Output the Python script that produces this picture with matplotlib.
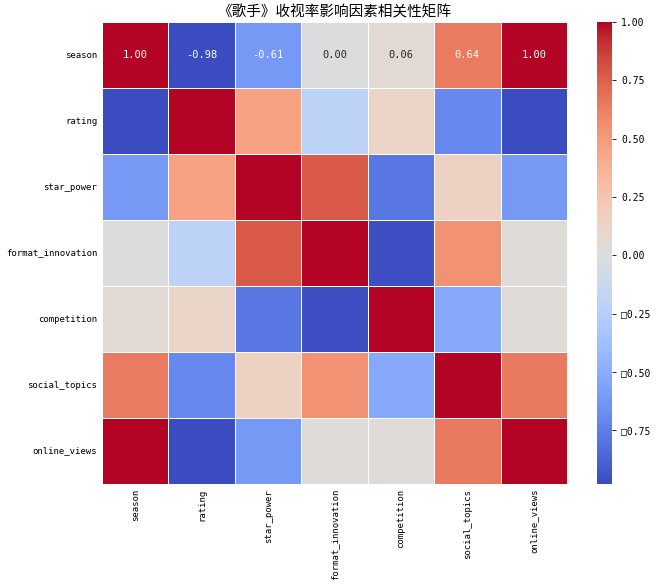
import numpy as np
import matplotlib
matplotlib.use("Agg")
import matplotlib.pyplot as plt
import seaborn as sns

plt.rcParams['font.family'] = ['Noto Sans CJK SC', 'DejaVu Sans']

labels = ['season', 'rating', 'star_power', 'format_innovation',
          'competition', 'social_topics', 'online_views']

# correlation matrix (rows)
season_row = [1.00, -0.98, -0.61, 0.00, 0.06, 0.64, 1.00]
rating_row = [-0.98, 1.00, 0.46, -0.21, 0.12, -0.70, -0.98]
star_row = [-0.61, 0.46, 1.00, 0.77, -0.78, 0.15, -0.61]
format_row = [0.00, -0.21, 0.77, 1.00, -0.97, 0.54, 0.03]
comp_row = [0.06, 0.12, -0.78, -0.97, 1.00, -0.52, 0.04]
social_row = [0.64, -0.70, 0.15, 0.54, -0.52, 1.00, 0.65]
online_row = [1.00, -0.98, -0.61, 0.03, 0.04, 0.65, 1.00]

corr = np.array([season_row, rating_row, star_row, format_row,
                 comp_row, social_row, online_row])

cbar_ticks = [-0.75, -0.5, -0.25, 0.0, 0.25, 0.5, 0.75, 1.0]

fig = plt.figure(figsize=(6.64, 5.85), dpi=100)
ax = fig.add_axes([102/664, 1-484/585, 465/664, 462/585])
cax = fig.add_axes([597/664, 1-484/585, 15/664, 462/585])

sns.heatmap(corr, cmap='coolwarm', linewidths=0.5, linecolor='white',
            ax=ax, cbar_ax=cax, xticklabels=labels, yticklabels=labels)

# only the first row carries numbers in the original
for j, v in enumerate(corr[0]):
    col = 'white' if abs(v) > 0.3 else '#262626'
    ax.text(j + 0.5, 0.5, f'{v:.2f}', ha='center', va='center',
            color=col, fontsize=7.5, family='DejaVu Sans Mono')

ax.set_xticklabels(labels, rotation=90, fontsize=6.5, family='DejaVu Sans Mono')
ax.set_yticklabels(labels, rotation=0, fontsize=6.5, family='DejaVu Sans Mono')
ax.tick_params(length=0)

cax.set_yticks(cbar_ticks)
cax.set_yticklabels([('\u25a1' + f'{abs(t):.2f}') if t < 0 else f'{t:.2f}'
                     for t in cbar_ticks], fontsize=7, family='DejaVu Sans Mono')
cax.tick_params(length=3, width=0.6)

ax.set_title('《歌手》收视率影响因素相关性矩阵', fontsize=10.5, pad=4)

fig.savefig('out.png', dpi=100)
